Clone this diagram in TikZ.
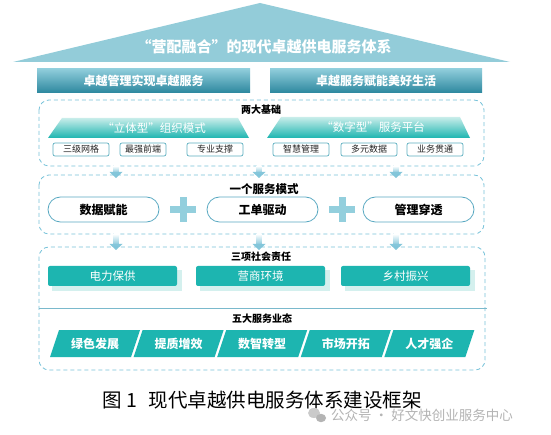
\documentclass[tikz,border=0pt]{standalone}
\usepackage{fontspec}
\setmainfont{Noto Sans CJK SC}
\definecolor{roof}{HTML}{93CCD9}
\definecolor{bartop}{HTML}{8FCDDB}
\definecolor{barbot}{HTML}{2C879E}
\definecolor{dash}{HTML}{78C3DA}
\definecolor{teal}{HTML}{1DB5B0}
\definecolor{tealtop}{HTML}{C8EDEA}
\definecolor{tealshadow}{HTML}{D4F0EE}
\definecolor{smallb}{HTML}{5CAFC0}
\definecolor{pill}{HTML}{5AA9C2}
\definecolor{plusc}{HTML}{93CFDD}
\definecolor{arr}{HTML}{84C6DA}
\definecolor{sep}{HTML}{7AB9CC}
\definecolor{wm}{HTML}{B4B4B4}
\tikzset{
  bar/.style={top color=bartop, bottom color=barbot, minimum width=213pt, minimum height=24pt, inner sep=0pt, text=white, font=\bfseries\fontsize{12}{12}\selectfont},
  dbox/.style={draw=dash, dashed, dash pattern=on 4pt off 3pt, line width=0.8pt, rounded corners=10pt},
  lbl/.style={font=\bfseries\fontsize{10}{10}\selectfont, text=black, inner sep=0pt},
  small/.style={draw=smallb, line width=0.7pt, rounded corners=2pt, fill=white, minimum width=56pt, minimum height=13pt, inner sep=0pt, font=\fontsize{9}{9}\selectfont, text=black!85},
  pillbox/.style={draw=pill, line width=0.8pt, rounded corners=12.5pt, fill=white, minimum width=111pt, minimum height=25pt, inner sep=0pt, font=\bfseries\fontsize{12}{12}\selectfont, text=black},
  tealbox/.style={fill=teal, rounded corners=2pt, minimum width=129pt, minimum height=20pt, inner sep=0pt, text=white, font=\fontsize{11.5}{11.5}\selectfont},
  ptext/.style={text=white, font=\bfseries\fontsize{12}{12}\selectfont, inner sep=0pt},
  pics/darr/.style={code={
    \shade[top color=white, bottom color=arr] (-2.5,0) rectangle (2.5,#1-5);
    \fill[arr] (-6.5,#1-6) -- (6.5,#1-6) -- (0,#1) -- cycle;}},
  pics/plus/.style={code={
    \fill[plusc] (-13,-3.5) rectangle (13,3.5);
    \fill[plusc] (-3.5,-12.5) rectangle (3.5,12.5);}}
}
\begin{document}
\begin{tikzpicture}[x=1pt,y=-1pt]
\useasboundingbox[fill=white] (0,0) rectangle (551,435);
% roof
\fill[roof] (13,62) -- (260,3) -- (510,62) -- cycle;
\node[text=white, font=\bfseries\fontsize{15}{15}\selectfont, inner sep=0pt] (title) at (264,47) {“营配融合”的现代卓越供电服务体系};
% bars
\node[bar] (bar1) at (143.5,81) {卓越管理实现卓越服务};
\node[bar, minimum width=212pt] (bar2) at (376,81) {卓越服务赋能美好生活};
% box 1
\draw[dbox] (39,100) rectangle (484,166);
\node[lbl] (l1) at (261,110) {两大基础};
\shade[top color=tealtop, bottom color=teal] (48,138) -- (62,118) -- (238,118) -- (249,138) -- cycle;
\node[text=white, font=\fontsize{11.5}{11.5}\selectfont, inner sep=0pt] (t1) at (154,128) {“立体型”组织模式};
\shade[top color=tealtop, bottom color=teal] (267,138) -- (281,117) -- (460,117) -- (470,138) -- cycle;
\node[text=white, font=\fontsize{11.5}{11.5}\selectfont, inner sep=0pt] (t2) at (373,127.5) {“数字型”服务平台};
\node[small] (s1) at (81,149.5) {三级网格};
\node[small, minimum width=46pt] (s2) at (143,149.5) {最强前端};
\node[small] (s3) at (215,149.5) {专业支撑};
\node[small] (s4) at (301,149.5) {智慧管理};
\node[small] (s5) at (369,149.5) {多元数据};
\node[small] (s6) at (435,149.5) {业务贯通};
% arrows 1->2
\pic at (116,166) {darr=12};
\pic at (259,166) {darr=12};
\pic at (396,166) {darr=12};
% box 2
\draw[dbox] (39,175) rectangle (484,234);
\node[lbl, font=\bfseries\fontsize{11.5}{11.5}\selectfont] (l2) at (264,189) {一个服务模式};
\node[pillbox] (m1) at (103.5,209.5) {数据赋能};
\node[pillbox] (m2) at (262.5,209.5) {工单驱动};
\node[pillbox] (m3) at (418.5,209.5) {管理穿透};
\pic at (183,209.5) {plus};
\pic at (342,209.5) {plus};
% arrows 2->3
\pic at (116,234) {darr=16};
\pic at (259,234) {darr=16};
\pic at (396,234) {darr=16};
% box 3 + 4
\draw[dbox] (39,247) rectangle (485,370);
\draw[sep, line width=0.8pt] (39,308) -- (487,308);
\node[lbl] (l3) at (261,257) {三项社会责任};
\fill[tealshadow] (52,270) rectangle (182,291);
\fill[tealshadow] (200,270) rectangle (330,291);
\fill[tealshadow] (345,270) rectangle (475,291);
\node[tealbox] (r1) at (112.5,276) {电力保供};
\node[tealbox] (r2) at (260.5,276) {营商环境};
\node[tealbox] (r3) at (405.5,276) {乡村振兴};
\node[lbl] (l4) at (262,319) {五大服务业态};
\foreach \i/\t in {0/绿色发展,1/提质增效,2/数智转型,3/市场开拓,4/人才强企}{
  \pgfmathsetmacro\xa{50+83.6*\i}
  \fill[teal] (\xa,357) -- (\xa+9,330) -- (\xa+90,330) -- (\xa+81,357) -- cycle;
  \node[ptext] (f\i) at (\xa+45,343.5) {\t};
}
% caption
\node[font=\fontsize{19.5}{19.5}\selectfont, text=black, inner sep=0pt, text height=15pt, text depth=1pt] (cap) at (262,400) {图 1\hspace{0.6em}现代卓越供电服务体系建设框架};
% watermark
\fill[wm!70] (314,413) ellipse (6 and 5);
\fill[wm] (321,418) ellipse (5 and 4.2);
\node[font=\fontsize{13.5}{13.5}\selectfont, text=wm, inner sep=0pt, anchor=west, text height=10pt, text depth=1.5pt] (wmk) at (331,416.5) {公众号 · 好文快创业服务中心};
\end{tikzpicture}
\end{document}
